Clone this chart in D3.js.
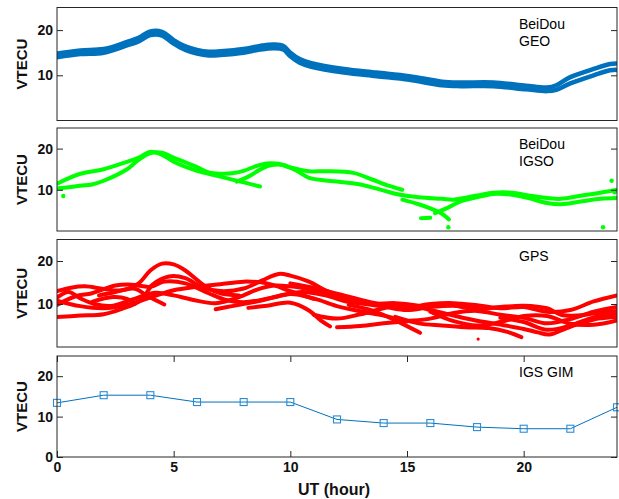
<!DOCTYPE html>
<html><head><meta charset="utf-8">
<script src="https://cdn.jsdelivr.net/npm/d3@7"></script>
<style>body{margin:0;background:#fff}svg{display:block}text{font-family:Arial,"Liberation Sans",sans-serif}</style>
</head><body><svg id="c" width="619" height="499"></svg>
<script>
// ---------- DATA ----------
const xTicks = [0, 5, 10, 15, 20];
const yTicksSat = [10, 20];
const yTicksGim = [0, 10, 20];
const panelLabels = [["BeiDou", "GEO"], ["BeiDou", "IGSO"], ["GPS"], ["IGS GIM"]];
const yTitle = "VTECU";
const xTitle = "UT (hour)";

// BeiDou GEO (two overlapping bands)
const geoUpper = [[0,14.8],[1,15.5],[2,15.8],[3,17.4],[3.5,18.3],[4,19.7],[4.5,19.6],[5,17.8],[5.5,16.4],[6,15.6],[6.5,15.2],[7,15.3],[8,15.8],[8.7,16.5],[9.3,16.8],[9.7,16.5],[10,15.0],[10.4,13.6],[10.9,12.7],[12.3,11.4],[13.7,10.6],[15.1,9.8],[16.5,8.6],[17.3,8.4],[18.7,8.4],[20.1,7.7],[21,7.3],[21.4,7.8],[22,9.6],[23,11.4],[23.7,12.5],[24,12.6]];
const geoLower = [[0,14.0],[1,14.7],[2,15.0],[3,16.6],[3.5,17.5],[4,18.9],[4.5,18.8],[5,17.0],[5.5,15.6],[6,14.8],[6.5,14.4],[7,14.5],[8,15.0],[8.7,15.7],[9.3,16.0],[9.7,15.7],[10,14.2],[10.4,12.8],[10.9,11.9],[12.3,10.6],[13.7,9.8],[15.1,9.0],[16.5,7.8],[17.3,7.6],[18.7,7.6],[20.1,6.9],[21,6.5],[21.4,6.8],[22,8.2],[23,10.0],[23.7,11.1],[24,11.2]];

// BeiDou IGSO tracks
const igso1 = [[0,11.5],[1,13.9],[2,15.0],[3,16.8],[3.5,17.8],[4,19.2],[4.5,18.5],[5,16.8],[6,14.6],[7,13.2],[8,11.8],[8.7,10.8]];
const igso2 = [[0,10.3],[0.5,10.6],[1,11.0],[1.5,11.3],[2,12.2],[3,15.0],[3.5,17.3],[4,18.9],[4.5,19.0],[5,17.8],[6,15.5],[6.5,14.2],[7,13.9],[7.5,14.0],[8,14.6],[8.5,15.7],[9,16.4],[9.5,16.3],[10,15.4],[10.8,14.5],[11.5,14.5],[12.7,14.1],[13.5,12.5],[14.2,11.0],[14.8,10.0]];
const igso3 = [[7.7,12.0],[8.2,13.2],[8.8,15.2],[9.2,16.0],[9.7,16.0],[10.3,14.5],[10.8,12.9],[12,12.0],[13,11.3],[14,9.8],[14.7,8.8],[15.5,8.2],[16.5,7.8],[17,7.6],[18,8.6],[18.7,9.3],[19.5,9.3],[20.2,8.6],[21,8.0],[21.6,7.8],[22.5,8.6],[23.3,9.3],[24,10.0]];
const igso4 = [[14.8,7.6],[15.5,6.5],[16,5.5],[16.5,4.2],[16.8,2.8]];
const igso5 = [[16.2,4.3],[16.8,5.8],[17.3,7.2],[18,8.2],[18.7,9.0],[19.5,8.8],[20.2,8.0],[21,6.8],[21.6,6.5],[22.5,7.2],[23.3,7.8],[24,8.0]];
const igso6 = [[15.6,3.1],[16.0,3.2]];
const igsoDots = [[0.27,8.5],[16.77,0.9],[23.77,12.2],[23.4,0.9],[23.9,9.4]];

// GPS tracks
const gps1 = [[0,13.0],[0.6,13.8],[1.2,14.1],[2,13.5],[2.8,13.2],[3.5,14.8],[4,17.8],[4.5,19.4],[5,19.2],[5.5,17.8],[6,15.6],[6.5,13.6],[7,12.5],[7.8,12.0]];
const gps2 = [[0,7.0],[1,7.3],[2,7.6],[2.8,8.9],[3.6,10.9],[4.1,14.5],[4.8,16.4],[5.5,16.0],[6.2,13.9],[7,13.0],[8,13.6],[8.8,15.5],[9.5,17.0],[10,16.6],[10.8,15.2],[11.5,13.2],[12.3,11.5],[13,10.6]];
const gps3 = [[0,9.8],[0.8,11.8],[1.5,12.5],[2.5,14.3],[3.2,14.5],[4,14.0],[4.6,15.2],[5.5,14.8],[6.5,12.5],[7.2,11.0],[8,10.4],[9,11.2],[10,12.3],[11,11.3],[12,9.5],[13,8.3],[14,7.3],[15,6.0]];
const gps4 = [[0,11.5],[0.5,12.8],[1,11.3],[1.6,10.0],[2.4,9.6],[3.2,11.0],[4.2,12.6],[5,12.0],[5.8,11.0],[6.8,10.2],[7.8,11.6],[8.6,13.4],[9.3,14.3],[10,14.1],[11,13.2],[12,12.0],[13,10.2],[14,9.4],[15,8.6],[16,9.3],[17,9.6],[18,9.0]];
const gps5 = [[1.8,12.0],[2.5,12.8],[3.3,13.6],[3.9,11.8],[4.6,9.9]];
const gps6 = [[1.5,10.5],[2.4,11.6],[3.0,11.2],[3.34,10.1]];
const gps7 = [[10,14.8],[11,13.8],[12,12.4],[13,11.0],[14,9.8],[15,9.2],[16,10.0],[17,10.2],[18,9.7],[19,9.0],[20,9.3],[21,8.2],[22,8.6],[23,10.6],[24,12.0]];
const gps8 = [[11,7.5],[12,6.6],[13,7.6],[14,9.0],[15,9.8],[16,8.6],[17,7.3],[18,6.1],[19,5.2],[20,4.2],[20.6,3.4],[21.1,2.9],[21.8,4.3],[22.5,5.6],[23.2,6.6],[24,7.0]];
const gps9 = [[12,4.6],[13,4.9],[14,5.5],[15,6.0],[16,6.6],[17,7.9],[18,8.4],[19,7.5],[20,6.8],[21,5.5],[22,6.5],[23,8.2],[24,9.3]];
const gps10 = [[12.5,9.8],[13.5,8.5],[14.5,6.2],[15.56,3.3]];
const gps11 = [[14.5,7.0],[15.5,5.5],[16.5,5.0],[17.5,4.6],[18.5,4.4],[19.3,3.5],[19.9,2.3]];
const gps12 = [[16,8.2],[17,6.0],[18,5.0],[19,5.8],[20,7.2],[21,7.2],[22,5.4],[23,5.2],[24,6.2]];
const gps13 = [[17,9.7],[18,8.8],[19,9.3],[20,9.6],[21,9.0],[21.6,7.5],[22.3,7.3],[23,7.8],[24,8.4]];
const gps14 = [[19,6.8],[20,5.8],[21,4.0],[22,5.0],[23,6.9],[24,7.8]];
const gps15 = [[0,10.8],[1,9.5],[2,9.0],[3,9.8],[4,11.5],[5,13.2],[6,14.0],[7,14.6],[8,15.2],[9,14.8],[10,13.0],[11,11.2]];
const gps16 = [[8.2,9.1],[9,9.6],[10,10.3],[10.8,8.5],[11.3,6.2],[11.7,4.8]];
const gps17 = [[6.8,8.8],[7.5,9.5],[8.5,10.5],[9.5,11.8],[10.5,12.8],[11.5,12.0],[12.5,10.5],[13.5,10.0],[14.5,10.2],[15.5,9.6]];
const gpsDots = [[18.05,1.85]];

// IGS GIM
const gimHours = [0, 2, 4, 6, 8, 10, 12, 14, 16, 18, 20, 22, 24];
const gimVtec = [13.4, 15.3, 15.3, 13.6, 13.6, 13.6, 9.3, 8.4, 8.4, 7.4, 7.0, 7.0, 12.3];

// ---------- DRAW ----------
const svg = d3.select("#c");
const x = d3.scaleLinear().domain([0, 24]).range([57, 617]);
const panels = [
  {top: 7.5, bottom: 120.5},
  {top: 128, bottom: 231},
  {top: 239.5, bottom: 347},
  {top: 356, bottom: 457}
];
const axisColor = "#262626";

panels.forEach((p, i) => {
  p.y = d3.scaleLinear().domain([0, 25]).range([p.bottom, p.top]);
  const g = svg.append("g");
  g.append("clipPath").attr("id", "clip" + i).append("rect")
    .attr("x", x(0)).attr("y", p.top).attr("width", x(24) - x(0)).attr("height", p.bottom - p.top);
  p.g = g;
  p.plot = g.append("g").attr("clip-path", `url(#clip${i})`);
});

function lineGen(y) {
  return d3.line().x(d => x(d[0])).y(d => y(d[1])).curve(d3.curveCatmullRom.alpha(0.5));
}
function drawTracks(p, tracks, color, width) {
  const lg = lineGen(p.y);
  p.plot.selectAll(null).data(tracks).enter().append("path")
    .attr("d", lg).attr("fill", "none").attr("stroke", color)
    .attr("stroke-width", width).attr("stroke-linecap", "round").attr("stroke-linejoin", "round");
}
function drawDots(p, dots, color, r) {
  p.plot.selectAll(null).data(dots).enter().append("circle")
    .attr("cx", d => x(d[0])).attr("cy", d => p.y(d[1])).attr("r", r).attr("fill", color);
}

// Panel 1: GEO
drawTracks(panels[0], [geoUpper, geoLower], "#0072BD", 4.5);
// Panel 2: IGSO
drawTracks(panels[1], [igso1, igso2, igso3, igso4, igso5, igso6], "#00ff00", 4);
drawDots(panels[1], igsoDots, "#00ff00", 2.2);
// Panel 3: GPS
drawTracks(panels[2], [gps1, gps2, gps3, gps4, gps5, gps6, gps7, gps8, gps9, gps10, gps11, gps12, gps13, gps14, gps15, gps16, gps17], "#ff0000", 4);
drawDots(panels[2], gpsDots, "#ff0000", 1.6);
// Panel 4: GIM
const gim = gimHours.map((h, k) => [h, gimVtec[k]]);
const p4 = panels[3];
p4.plot.append("path").datum(gim)
  .attr("d", d3.line().x(d => x(d[0])).y(d => p4.y(d[1])))
  .attr("fill", "none").attr("stroke", "#0072BD").attr("stroke-width", 1);
p4.g.selectAll(null).data(gim).enter().append("rect")
  .attr("x", d => x(d[0]) - 3.5).attr("y", d => p4.y(d[1]) - 3.5)
  .attr("width", 7).attr("height", 7)
  .attr("fill", "none").attr("stroke", "#2b8cd6").attr("stroke-width", 1.1);

// Axes and frames
panels.forEach((p, i) => {
  const g = p.g;
  const yt = i === 3 ? yTicksGim : yTicksSat;
  const left = g.append("g").attr("transform", `translate(${x(0)},0)`)
    .call(d3.axisLeft(p.y).tickValues(yt).tickSizeInner(-6).tickSizeOuter(0).tickPadding(4));
  const right = g.append("g").attr("transform", `translate(${x(24)},0)`)
    .call(d3.axisRight(p.y).tickValues(yt).tickSizeInner(-6).tickSizeOuter(0).tickFormat(""));
  [left, right].forEach(a => {
    a.select(".domain").remove();
    a.selectAll("line").attr("stroke", axisColor);
  });
  left.selectAll("text").attr("font-size", 14).attr("font-weight", "bold").attr("fill", "#111")
    .attr("font-family", "Arial, 'Liberation Sans', sans-serif");
  if (i === 3) {
    const bottom = g.append("g").attr("transform", `translate(0,${p.bottom})`)
      .call(d3.axisBottom(x).tickValues(xTicks).tickSizeInner(-6).tickSizeOuter(0).tickPadding(5));
    const top = g.append("g").attr("transform", `translate(0,${p.top})`)
      .call(d3.axisTop(x).tickValues(xTicks).tickSizeInner(-6).tickSizeOuter(0).tickFormat(""));
    [bottom, top].forEach(a => {
      a.select(".domain").remove();
      a.selectAll("line").attr("stroke", axisColor);
    });
    bottom.selectAll("text").attr("font-size", 14).attr("font-weight", "bold").attr("fill", "#111")
      .attr("font-family", "Arial, 'Liberation Sans', sans-serif");
  }
  g.append("rect").attr("x", x(0)).attr("y", p.top).attr("width", x(24) - x(0)).attr("height", p.bottom - p.top)
    .attr("fill", "none").attr("stroke", axisColor).attr("stroke-width", 1);
  // y title
  const cy = (p.top + p.bottom) / 2;
  g.append("text").attr("transform", `translate(27,${cy}) rotate(-90)`)
    .attr("text-anchor", "middle").attr("font-size", 15).attr("font-weight", "bold").attr("fill", "#111")
    .text(yTitle);
  // panel label
  const lab = g.append("text").attr("x", 519).attr("y", p.top + 21).attr("font-size", 14).attr("fill", "#000");
  panelLabels[i].forEach((s, k) => {
    lab.append("tspan").attr("x", 519).attr("dy", k === 0 ? 0 : 17).text(s);
  });
});

svg.append("text").attr("x", 334).attr("y", 495).attr("text-anchor", "middle")
  .attr("font-size", 16).attr("font-weight", "bold").attr("fill", "#111").text(xTitle);
</script>
</body></html>
